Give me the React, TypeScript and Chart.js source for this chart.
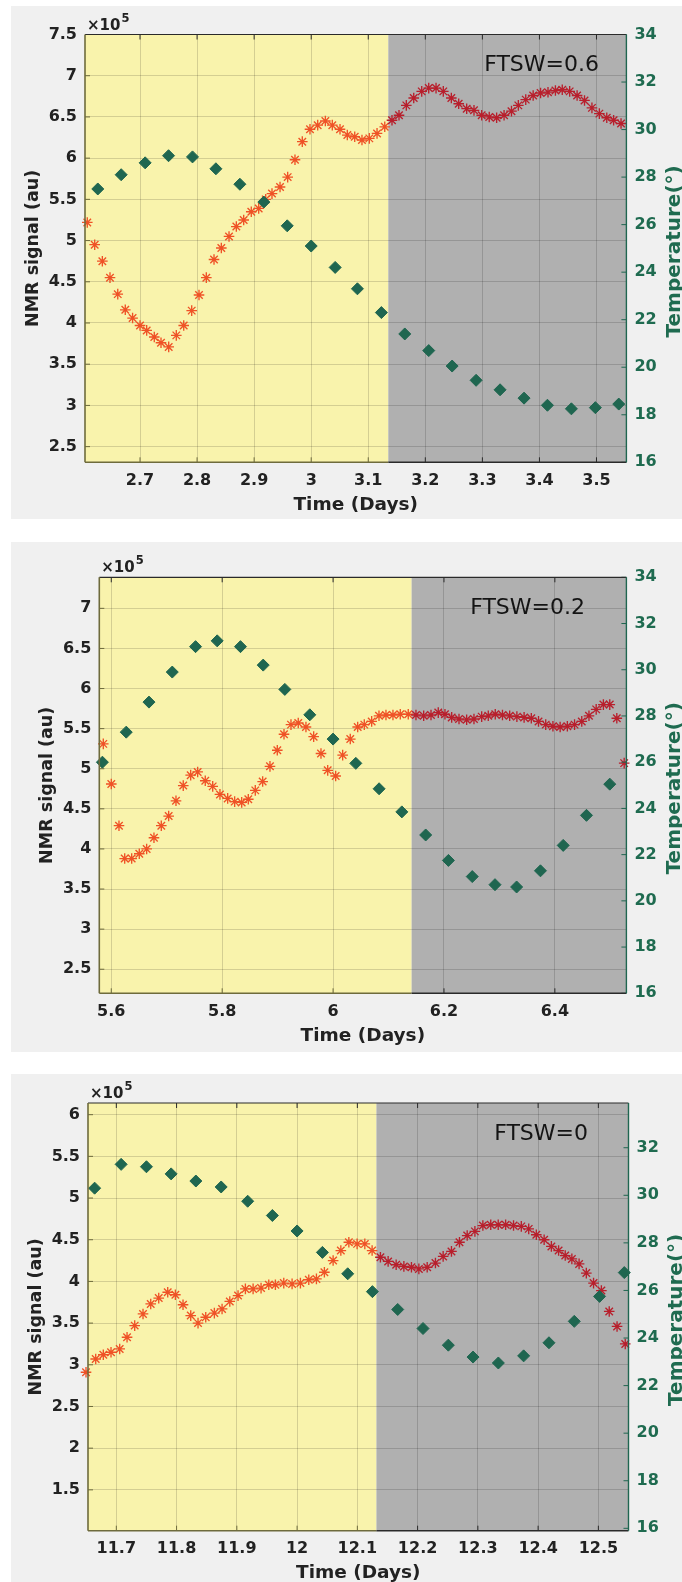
import React, { useEffect, useRef } from 'react';
import { Chart, registerables } from 'chart.js';

Chart.register(...registerables);

// ---------------- Panel 1: FTSW = 0.6 ----------------
const p1Label = 'FTSW=0.6';
const p1NightStart = 3.1352;
const p1NmrTime = [
  2.6076, 2.6206, 2.634, 2.6474, 2.661, 2.6742, 2.687, 2.7, 2.7117, 2.725, 2.7368, 2.7503,
  2.7636, 2.7766, 2.7906, 2.8034, 2.8162, 2.8297, 2.8425, 2.856, 2.8688, 2.8817, 2.895, 2.908,
  2.9203, 2.9313, 2.9454, 2.9588, 2.9716, 2.9844, 2.9979, 3.0114, 3.0248, 3.037, 3.0505, 3.0633,
  3.0763, 3.089, 3.1019, 3.1154, 3.1289, 3.1416, 3.1539, 3.1667, 3.1797, 3.1937, 3.206, 3.2188,
  3.2315, 3.2456, 3.2585, 3.2725, 3.2853, 3.2988, 3.312, 3.325, 3.338, 3.351, 3.363, 3.376,
  3.389, 3.402, 3.415, 3.428, 3.44, 3.453, 3.466, 3.479, 3.492, 3.505, 3.518, 3.53, 3.543,
];
const p1NmrSignal = [
  5.22, 4.95, 4.75, 4.55, 4.35, 4.16, 4.06, 3.97, 3.91, 3.83, 3.76, 3.71,
  3.85, 3.97, 4.15, 4.34, 4.55, 4.77, 4.91, 5.05, 5.17, 5.25, 5.35, 5.39,
  5.5, 5.57, 5.65, 5.77, 5.98, 6.2, 6.35, 6.4, 6.45, 6.4, 6.35, 6.28,
  6.26, 6.22, 6.24, 6.3, 6.38, 6.46, 6.52, 6.64, 6.73, 6.81, 6.85, 6.85,
  6.81, 6.73, 6.66, 6.6, 6.58, 6.52, 6.5, 6.49, 6.52, 6.57, 6.64, 6.71,
  6.76, 6.79, 6.8, 6.82, 6.83, 6.81, 6.76, 6.7, 6.61, 6.54, 6.49, 6.46, 6.42,
];
const p1TempTime = [
  2.626, 2.667, 2.709, 2.75, 2.792, 2.833, 2.875, 2.917, 2.958, 3.0, 3.042, 3.081,
  3.123, 3.164, 3.206, 3.247, 3.289, 3.331, 3.373, 3.414, 3.456, 3.498, 3.539,
];
const p1Temp = [
  27.5, 28.1, 28.6, 28.9, 28.85, 28.35, 27.7, 26.95, 25.95, 25.1, 24.2, 23.3,
  22.3, 21.4, 20.7, 20.05, 19.45, 19.05, 18.7, 18.4, 18.25, 18.3, 18.45,
];

// ---------------- Panel 2: FTSW = 0.2 ----------------
const p2Label = 'FTSW=0.2';
const p2NightStart = 6.1417;
const p2NmrTime = [
  5.5856, 5.6, 5.6139, 5.6242, 5.6368, 5.6505, 5.6638, 5.677, 5.6902, 5.7035, 5.7167, 5.7298,
  5.7432, 5.7558, 5.7695, 5.7829, 5.796, 5.8099, 5.8225, 5.8352, 5.8471, 5.8597, 5.873, 5.8862,
  5.8994, 5.9115, 5.9241, 5.9372, 5.9511, 5.965, 5.9782, 5.9903, 6.0047, 6.0173, 6.031, 6.0444,
  6.0563, 6.0696, 6.0828, 6.0954, 6.108, 6.1212, 6.1356, 6.1495, 6.1634, 6.1766, 6.1897, 6.2018,
  6.2139, 6.2271, 6.2409, 6.2541, 6.268, 6.2799, 6.2925, 6.3055, 6.3185, 6.3315, 6.3445, 6.3575,
  6.3705, 6.3835, 6.3965, 6.4095, 6.4225, 6.4355, 6.4485, 6.4615, 6.4745, 6.4875, 6.499, 6.5117, 6.525,
];
const p2NmrSignal = [
  5.31, 4.81, 4.29, 3.88, 3.88, 3.94, 4.0, 4.14, 4.29, 4.41, 4.6, 4.79,
  4.92, 4.96, 4.85, 4.78, 4.68, 4.63, 4.59, 4.58, 4.62, 4.73, 4.84, 5.03,
  5.23, 5.43, 5.55, 5.57, 5.52, 5.4, 5.19, 4.98, 4.91, 5.17, 5.37, 5.52,
  5.55, 5.59, 5.66, 5.67, 5.67, 5.68, 5.68, 5.67, 5.66, 5.67, 5.7, 5.68,
  5.64, 5.62, 5.61, 5.62, 5.65, 5.66, 5.68, 5.67, 5.66, 5.65, 5.64, 5.63,
  5.59, 5.55, 5.53, 5.52, 5.53, 5.55, 5.59, 5.66, 5.74, 5.8, 5.8, 5.63, 5.07,
];
const p2TempTime = [
  5.584, 5.627, 5.668, 5.71, 5.752, 5.791, 5.833, 5.874, 5.913, 5.958, 6.0, 6.041,
  6.083, 6.124, 6.167, 6.208, 6.251, 6.292, 6.331, 6.374, 6.415, 6.457, 6.499,
];
const p2Temp = [
  26.0, 27.3, 28.6, 29.9, 31.0, 31.25, 31.0, 30.2, 29.15, 28.05, 27.0, 25.95,
  24.85, 23.85, 22.85, 21.75, 21.05, 20.7, 20.6, 21.3, 22.4, 23.7, 25.05,
];

// ---------------- Panel 3: FTSW = 0 ----------------
const p3Label = 'FTSW=0';
const p3NightStart = 12.1317;
const p3NmrTime = [
  11.6497, 11.6658, 11.6784, 11.6912, 11.7056, 11.7178, 11.7305, 11.7443, 11.7571, 11.7704, 11.7853, 11.798,
  11.8107, 11.8235, 11.8356, 11.8484, 11.8627, 11.8755, 11.8883, 11.902, 11.9142, 11.927, 11.9402, 11.953,
  11.964, 11.9779, 11.9917, 12.0055, 12.0194, 12.0321, 12.0453, 12.0598, 12.0726, 12.0859, 12.0996, 12.1124,
  12.1245, 12.1383, 12.1511, 12.1644, 12.1772, 12.1898, 12.2021, 12.2159, 12.2296, 12.2424, 12.2562, 12.2695,
  12.2823, 12.2951, 12.3083, 12.3214, 12.3338, 12.3461, 12.3592, 12.3721, 12.3844, 12.397, 12.41, 12.422,
  12.434, 12.445, 12.456, 12.468, 12.48, 12.492, 12.505, 12.518, 12.531, 12.5446,
];
const p3NmrSignal = [
  2.91, 3.07, 3.12, 3.15, 3.19, 3.33, 3.47, 3.61, 3.73, 3.8, 3.87, 3.84,
  3.72, 3.59, 3.5, 3.57, 3.62, 3.67, 3.76, 3.83, 3.91, 3.91, 3.92, 3.96,
  3.96, 3.98, 3.97, 3.98, 4.02, 4.03, 4.11, 4.25, 4.37, 4.47, 4.45, 4.45,
  4.37, 4.29, 4.24, 4.2, 4.18, 4.17, 4.15, 4.17, 4.22, 4.3, 4.36, 4.47,
  4.55, 4.6, 4.67, 4.68, 4.68, 4.68, 4.67, 4.66, 4.63, 4.56, 4.5, 4.42,
  4.37, 4.31, 4.27, 4.21, 4.1, 3.98, 3.89, 3.64, 3.46, 3.25,
];
const p3TempTime = [
  11.664, 11.708, 11.75, 11.791, 11.832, 11.874, 11.918, 11.959, 12.0, 12.042, 12.084,
  12.125, 12.167, 12.209, 12.251, 12.292, 12.334, 12.376, 12.418, 12.46, 12.502, 12.543,
];
const p3Temp = [
  30.3, 31.3, 31.2, 30.9, 30.6, 30.35, 29.75, 29.15, 28.5, 27.6, 26.7,
  25.95, 25.2, 24.4, 23.7, 23.2, 22.95, 23.25, 23.8, 24.7, 25.75, 26.75,
];

// ---------------- Styling / layout ----------------
const FONT = '"DejaVu Sans", "Liberation Sans", sans-serif';
const PANEL_BG = '#f0f0f0';
const YELLOW = '#f9f3ac';
const SHADE = '#b0b0b0';
const GRID = 'rgba(0,0,0,0.15)';
const STAR_DAY = '#ef5226';
const STAR_NIGHT = '#b81f2c';
const GREEN = '#1f6650';
const GREEN_TEXT = '#1f6b50';
const DARK_TEXT = '#222222';
const OLIVE = '#6e6b3c';
const BLACKISH = '#2a2a2a';
const PANEL_LEFT = 11;
const PANEL_W = 671;

type PanelCfg = {
  key: string;
  top: number;
  height: number;
  area: { left: number; right: number; top: number; bottom: number };
  xMin: number; xMax: number; xStep: number;
  yMin: number; yMax: number;
  y2Min: number; y2Max: number;
  night: number;
  label: string;
  labelRight: number;
  nmrTime: number[]; nmr: number[];
  tempTime: number[]; temp: number[];
};

const panels: PanelCfg[] = [
  {
    key: 'p1', top: 6, height: 513,
    area: { left: 74, right: 615.4, top: 28.5, bottom: 456.3 },
    xMin: 2.6036, xMax: 3.5524, xStep: 0.1, yMin: 2.31, yMax: 7.5, y2Min: 16, y2Max: 34,
    night: p1NightStart, label: p1Label, labelRight: 27.4,
    nmrTime: p1NmrTime, nmr: p1NmrSignal, tempTime: p1TempTime, temp: p1Temp,
  },
  {
    key: 'p2', top: 542, height: 510,
    area: { left: 88.3, right: 615.4, top: 35.3, bottom: 451.3 },
    xMin: 5.5784, xMax: 6.529, xStep: 0.2, yMin: 2.2, yMax: 7.387, y2Min: 16, y2Max: 34,
    night: p2NightStart, label: p2Label, labelRight: 41.4,
    nmrTime: p2NmrTime, nmr: p2NmrSignal, tempTime: p2TempTime, temp: p2Temp,
  },
  {
    key: 'p3', top: 1074, height: 508,
    area: { left: 77, right: 617.5, top: 29, bottom: 456.7 },
    xMin: 11.653, xMax: 12.55, xStep: 0.1, yMin: 1.01, yMax: 6.14, y2Min: 15.9, y2Max: 33.88,
    night: p3NightStart, label: p3Label, labelRight: 40.5,
    nmrTime: p3NmrTime, nmr: p3NmrSignal, tempTime: p3TempTime, temp: p3Temp,
  },
];

const fmt = (v: any) => String(Number(Number(v).toFixed(2)));

function makeDeco(cfg: PanelCfg) {
  return {
    id: 'deco_' + cfg.key,
    beforeDraw(chart: any) {
      const { ctx, chartArea: a, scales } = chart;
      const bx = scales.x.getPixelForValue(cfg.night);
      ctx.save();
      ctx.fillStyle = YELLOW;
      ctx.fillRect(a.left, a.top, bx - a.left, a.bottom - a.top);
      ctx.fillStyle = SHADE;
      ctx.fillRect(bx, a.top, a.right - bx, a.bottom - a.top);
      ctx.restore();
    },
    afterDraw(chart: any) {
      const { ctx, chartArea: a, scales } = chart;
      const bx = scales.x.getPixelForValue(cfg.night);
      ctx.save();
      const line = (x1: number, y1: number, x2: number, y2: number, c: string, w = 1) => {
        ctx.strokeStyle = c; ctx.lineWidth = w;
        ctx.beginPath(); ctx.moveTo(x1, y1); ctx.lineTo(x2, y2); ctx.stroke();
      };
      // inward tick marks
      const TL = 5;
      scales.x.ticks.forEach((t: any) => {
        const px = scales.x.getPixelForValue(t.value);
        const c = px < bx ? OLIVE : BLACKISH;
        line(px, a.top, px, a.top + TL, BLACKISH);
        line(px, a.bottom, px, a.bottom - TL, c);
      });
      scales.y.ticks.forEach((t: any) => {
        const py = scales.y.getPixelForValue(t.value);
        line(a.left, py, a.left + TL, py, OLIVE);
      });
      scales.y2.ticks.forEach((t: any) => {
        const py = scales.y2.getPixelForValue(t.value);
        line(a.right, py, a.right - TL, py, GREEN);
      });
      // box
      line(a.left, a.top, a.right, a.top, BLACKISH, 1.2);
      line(a.left, a.bottom, bx, a.bottom, OLIVE, 1.6);
      line(bx, a.bottom, a.right, a.bottom, BLACKISH, 1.6);
      line(a.left, a.top, a.left, a.bottom, OLIVE, 1.6);
      line(a.right, a.top, a.right, a.bottom, GREEN, 1.4);

      const midY = (a.top + a.bottom) / 2;
      // left axis title
      ctx.save();
      ctx.translate(a.left - 47, midY);
      ctx.rotate(-Math.PI / 2);
      ctx.font = `bold 17.5px ${FONT}`;
      ctx.fillStyle = DARK_TEXT;
      ctx.textAlign = 'center';
      ctx.textBaseline = 'alphabetic';
      ctx.fillText('NMR signal (au)', 0, 0);
      ctx.restore();
      // right axis title (clipped by panel edge like the original)
      ctx.save();
      ctx.translate(a.right + 53.5, midY + 3);
      ctx.rotate(-Math.PI / 2);
      ctx.font = `bold 20px ${FONT}`;
      ctx.fillStyle = GREEN_TEXT;
      ctx.textAlign = 'center';
      ctx.textBaseline = 'alphabetic';
      ctx.fillText('Temperature(°)', 0, 0);
      ctx.restore();
      // x axis title
      ctx.font = `bold 18.5px ${FONT}`;
      ctx.fillStyle = DARK_TEXT;
      ctx.textAlign = 'center';
      ctx.textBaseline = 'middle';
      ctx.fillText('Time (Days)', (a.left + a.right) / 2, a.bottom + 42.5);
      // exponent
      ctx.textAlign = 'left';
      ctx.textBaseline = 'alphabetic';
      ctx.font = `bold 15px ${FONT}`;
      const base = '×10';
      ctx.fillText(base, a.left + 2, a.top - 5);
      const w = ctx.measureText(base).width;
      ctx.font = `bold 11.5px ${FONT}`;
      ctx.fillText('5', a.left + 2 + w + 1, a.top - 13);
      // FTSW label
      ctx.font = `22px ${FONT}`;
      ctx.fillStyle = '#141414';
      ctx.textAlign = 'right';
      ctx.fillText(cfg.label, a.right - cfg.labelRight, a.top + 36.5);
      ctx.restore();
    },
  };
}

function Panel({ cfg }: { cfg: PanelCfg }) {
  const ref = useRef<HTMLCanvasElement | null>(null);
  useEffect(() => {
    const canvas = ref.current;
    if (!canvas) return;
    const W = PANEL_W;
    const H = cfg.height;
    const a = cfg.area;
    const nmrPts = cfg.nmrTime.map((t, i) => ({ x: t, y: cfg.nmr[i] }));
    const tempPts = cfg.tempTime.map((t, i) => ({ x: t, y: cfg.temp[i] }));
    const tickFont = { family: FONT, size: 16, weight: 'bold' as const };
    const chart = new Chart(canvas, {
      type: 'scatter',
      data: {
        datasets: [
          {
            label: 'Temperature',
            data: tempPts,
            yAxisID: 'y2',
            pointStyle: 'rectRot',
            pointRadius: 6,
            pointBackgroundColor: GREEN,
            pointBorderColor: GREEN,
            pointBorderWidth: 1,
            order: 0,
            clip: false,
          } as any,
          {
            label: 'NMR signal',
            data: nmrPts,
            yAxisID: 'y',
            pointStyle: 'star',
            pointRadius: 5.3,
            pointBorderWidth: 1.35,
            pointBackgroundColor: 'rgba(0,0,0,0)',
            pointBorderColor: (c: any) =>
              c.raw && c.raw.x < cfg.night ? STAR_DAY : STAR_NIGHT,
            order: 1,
            clip: false,
          } as any,
        ],
      },
      options: {
        animation: false,
        responsive: false,
        devicePixelRatio: 1,
        events: [],
        layout: { padding: { top: a.top, left: 0, right: 0, bottom: 0 } },
        plugins: { legend: { display: false }, tooltip: { enabled: false } },
        scales: {
          x: {
            type: 'linear',
            position: 'bottom',
            min: cfg.xMin,
            max: cfg.xMax,
            afterFit: (s: any) => { s.height = H - a.bottom; },
            ticks: {
              stepSize: cfg.xStep,
              includeBounds: false,
              autoSkip: false,
              maxRotation: 0,
              padding: 9,
              color: DARK_TEXT,
              font: tickFont,
              callback: fmt,
            },
            grid: { color: GRID, drawTicks: false, lineWidth: 1 },
            border: { display: false },
          },
          y: {
            type: 'linear',
            position: 'left',
            min: cfg.yMin,
            max: cfg.yMax,
            afterFit: (s: any) => { s.width = a.left; },
            ticks: {
              stepSize: 0.5,
              includeBounds: false,
              autoSkip: false,
              padding: 8,
              color: DARK_TEXT,
              font: tickFont,
              callback: fmt,
            },
            grid: { color: GRID, drawTicks: false, lineWidth: 1 },
            border: { display: false },
          },
          y2: {
            type: 'linear',
            position: 'right',
            min: cfg.y2Min,
            max: cfg.y2Max,
            afterFit: (s: any) => { s.width = W - a.right; },
            ticks: {
              stepSize: 2,
              includeBounds: false,
              autoSkip: false,
              padding: 8,
              color: GREEN_TEXT,
              font: tickFont,
              callback: fmt,
            },
            grid: { display: false, drawTicks: false },
            border: { display: false },
          },
        } as any,
      },
      plugins: [makeDeco(cfg)],
    });
    return () => chart.destroy();
  }, [cfg]);
  return (
    <div
      style={{
        position: 'absolute',
        left: PANEL_LEFT,
        top: cfg.top,
        width: PANEL_W,
        height: cfg.height,
        background: PANEL_BG,
        overflow: 'hidden',
      }}
    >
      <canvas
        ref={ref}
        width={PANEL_W}
        height={cfg.height}
        style={{ display: 'block', width: PANEL_W, height: cfg.height }}
      />
    </div>
  );
}

export default function App() {
  return (
    <div
      style={{
        position: 'absolute',
        left: 0,
        top: 0,
        width: 682,
        height: 1582,
        background: '#ffffff',
        overflow: 'hidden',
      }}
    >
      {panels.map((p) => (
        <Panel key={p.key} cfg={p} />
      ))}
    </div>
  );
}
